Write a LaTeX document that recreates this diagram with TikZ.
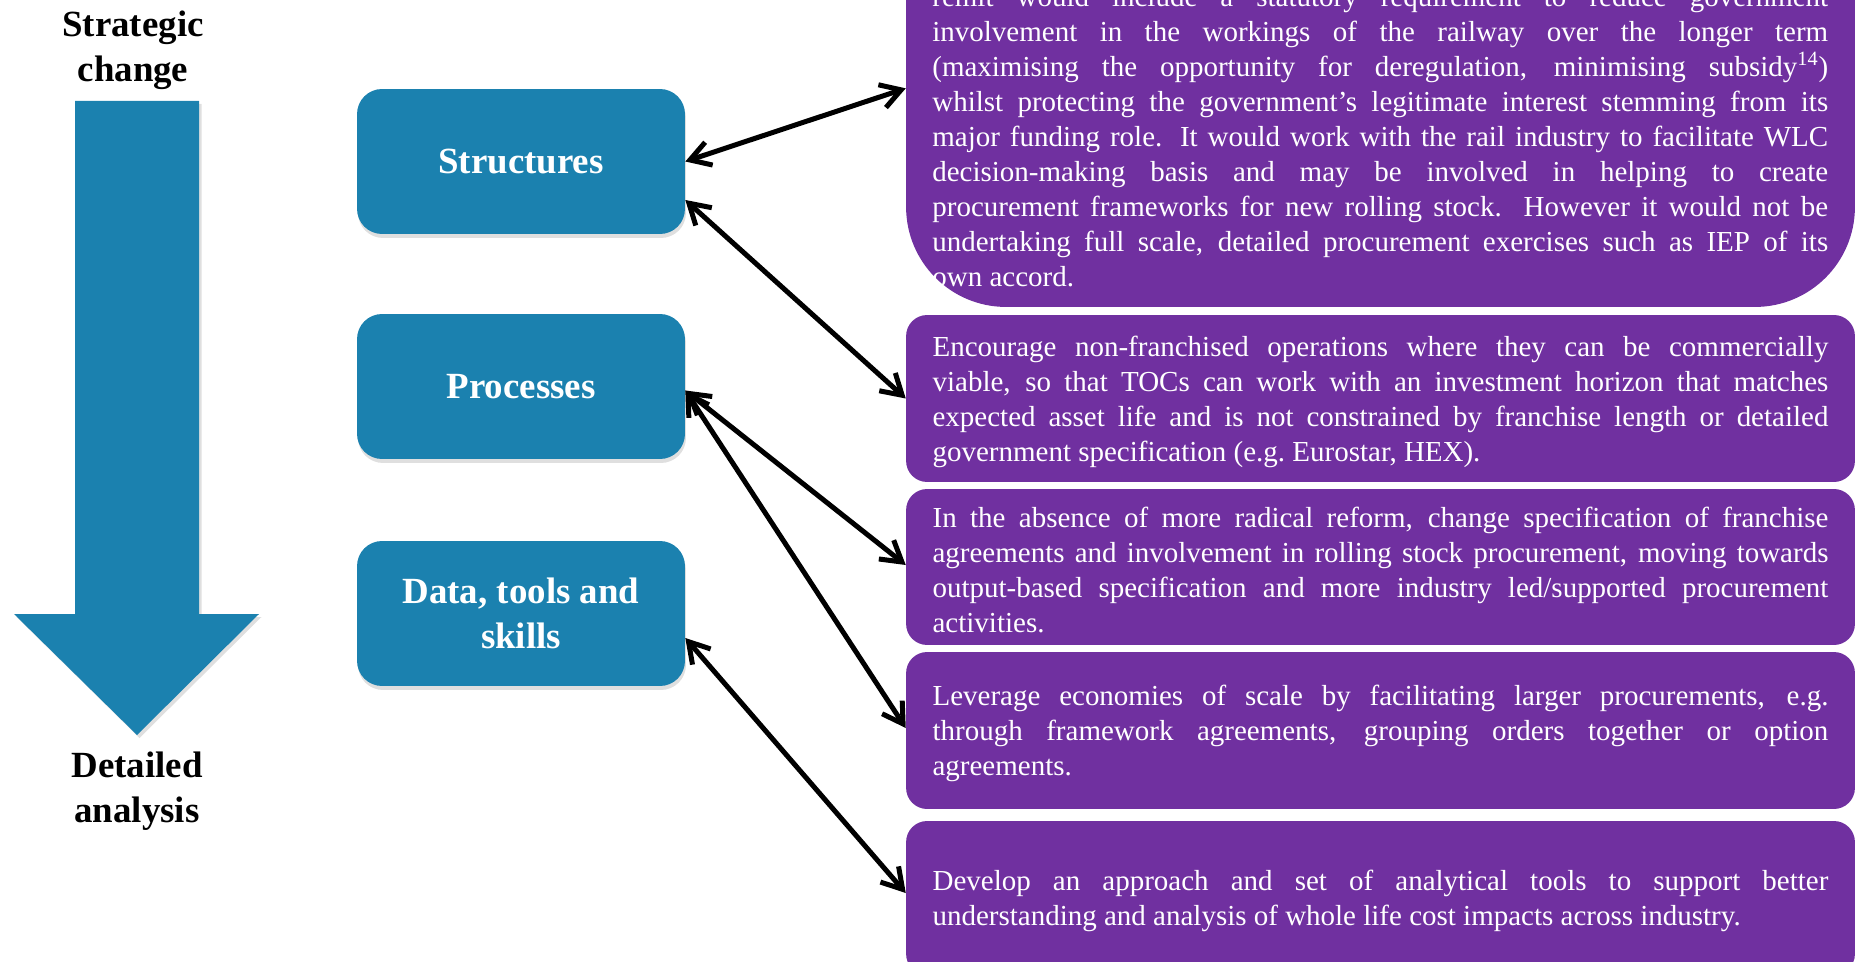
\documentclass[tikz,border=0pt]{standalone}
\usepackage{fontspec}
\setmainfont{Liberation Serif}
\usepackage{tikz}
\usetikzlibrary{arrows.meta,shadows}
\definecolor{catblue}{HTML}{1B81AF}
\definecolor{optpurple}{HTML}{7030A0}
\newcommand{\catfont}{\fontsize{21}{25.6}\selectfont\bfseries}
\newcommand{\optfont}{\fontsize{16.5}{19.9}\selectfont}
\hyphenpenalty=10000
\exhyphenpenalty=10000
\tolerance=9999
\emergencystretch=2em

\begin{document}
\begin{tikzpicture}[x=0.02cm, y=-0.02cm,
    cat/.style={fill=catblue, rounded corners=0.5cm, minimum width=6.56cm, minimum height=2.9cm, text=white, align=center, font=\catfont, drop shadow={shadow xshift=0.02cm, shadow yshift=-0.08cm, opacity=0.25}},
    opt/.style={fill=optpurple, rounded corners=0.42cm, minimum width=18.98cm, text width=17.92cm, inner xsep=0.53cm, inner ysep=0pt, text=white, align=justify, font=\optfont, execute at begin node={\rule{0pt}{0.54cm}}},
    optpanel/.style={fill=optpurple, rounded corners=2cm, minimum width=18.98cm, minimum height=10.4cm, inner sep=0pt},
    opttext/.style={text width=17.92cm, inner sep=0pt, text=white, align=justify, font=\optfont},
    lbl/.style={align=center, font=\catfont},
    arr/.style={<->, >={Straight Barb[length=0.4cm, width=0.48cm]}, line width=0.1cm}
]
\useasboundingbox (0,0) rectangle (1865,962);
\clip (0,0) rectangle (1865,962);

\fill[catblue, drop shadow={shadow xshift=0.05cm, shadow yshift=-0.06cm, opacity=0.25}]
    (75,101) -- (199,101) -- (199,614) -- (259,614) -- (137,735) -- (14,614) -- (75,614) -- cycle;
\node[lbl] (top) at (133,50) {Strategic\\change};
\node[lbl] (bottom) at (137,791) {Detailed\\analysis};

\node[cat] (structures) at (521,161.5) {Structures};
\node[cat] (processes) at (521,386.5) {Processes};
\node[cat] (data) at (521,613.5) {Data, tools and\\skills};

\node[optpanel] (box1) at (1380.5,47) {};
\node[opttext, anchor=base west] (text1) at (932,7) {remit would include a statutory requirement to reduce government\linebreak
involvement in the workings of the railway over the longer term\linebreak
(maximising the opportunity for deregulation, minimising subsidy\textsuperscript{14})\linebreak
whilst protecting the government’s legitimate interest stemming from its\linebreak
major funding role.  It would work with the rail industry to facilitate WLC\linebreak
decision-making basis and may be involved in helping to create\linebreak
procurement frameworks for new rolling stock.  However it would not be\linebreak
undertaking full scale, detailed procurement exercises such as IEP of its\linebreak
own accord.};
\node[opt, minimum height=3.34cm] (box2) at (1380.5,398.5) {Encourage non-franchised operations where they can be commercially\linebreak
viable, so that TOCs can work with an investment horizon that matches\linebreak
expected asset life and is not constrained by franchise length or detailed\linebreak
government specification (e.g.\ Eurostar, HEX).};
\node[opt, minimum height=3.12cm] (box3) at (1380.5,567) {In the absence of more radical reform, change specification of franchise\linebreak
agreements and involvement in rolling stock procurement, moving towards\linebreak
output-based specification and more industry led/supported procurement\linebreak
activities.};
\node[opt, minimum height=3.14cm] (box4) at (1380.5,730.5) {Leverage economies of scale by facilitating larger procurements, e.g.\linebreak
through framework agreements, grouping orders together or option\linebreak
agreements.};
\node[opt, minimum height=3.08cm] (box5) at (1380.5,898) {Develop an approach and set of analytical tools to support better\linebreak
understanding and analysis of whole life cost impacts across industry.};

\draw[arr] (structures.east) -- ([yshift=4.38cm]box1.south west);
\draw[arr] ([yshift=-0.77cm]structures.east) -- (box2.west);
\draw[arr] ([yshift=-0.08cm]processes.east) -- ([yshift=0.04cm]box3.west);
\draw[arr] ([yshift=-0.08cm]processes.east) -- ([yshift=0.05cm]box4.west);
\draw[arr] ([yshift=-0.49cm]data.east) -- ([yshift=0.1cm]box5.west);
\end{tikzpicture}
\end{document}
